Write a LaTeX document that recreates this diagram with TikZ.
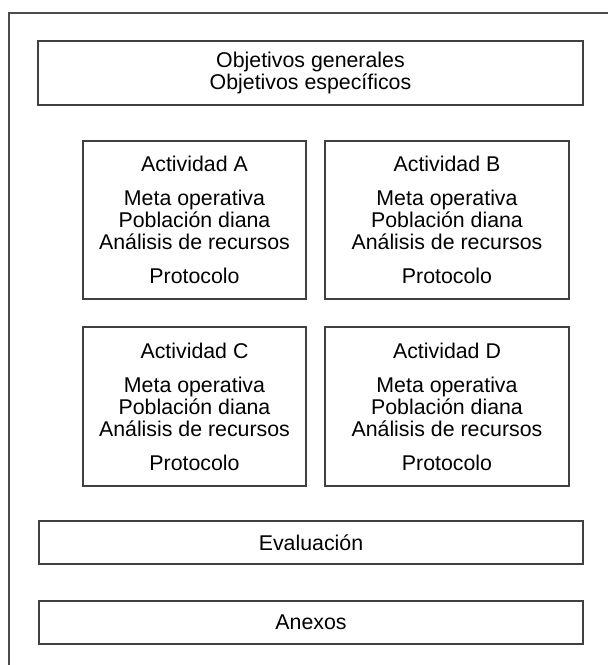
\documentclass[tikz,border=0pt]{standalone}
\usepackage{fontspec}
\setmainfont{Liberation Sans}
\begin{document}
\begin{tikzpicture}[x=0.75pt,y=-0.75pt]
    \tikzset{box/.style = {draw=black!75, line width=1.1pt, inner sep=0pt, outer sep=0pt,
        align=center, font=\fontsize{16}{16.5}\selectfont}}
    \tikzset{frame/.style = {draw=black!70, line width=1.1pt}}
    \useasboundingbox (0,0) rectangle (608,665);
    % outer frame, open to the right and below
    \coordinate (fr) at (608,13);
    \coordinate (fc) at (9,13);
    \coordinate (fb) at (9,665);
    \draw[frame] (fr) -- (fc) -- (fb);
    \node[box, minimum width=408.75pt, minimum height=48pt] (obj) at (310.5,73)
        {Objetivos generales\\Objetivos específicos};
    \node[box, minimum width=167.25pt, minimum height=118.5pt] (actA) at (194.5,220)
        {Actividad A\\[9pt]Meta operativa\\Población diana\\Análisis de recursos\\[9pt]Protocolo};
    \node[box, minimum width=183pt, minimum height=118.5pt] (actB) at (447,220)
        {Actividad B\\[9pt]Meta operativa\\Población diana\\Análisis de recursos\\[9pt]Protocolo};
    \node[box, minimum width=167.25pt, minimum height=119.25pt] (actC) at (194.5,406.5)
        {Actividad C\\[9pt]Meta operativa\\Población diana\\Análisis de recursos\\[9pt]Protocolo};
    \node[box, minimum width=183pt, minimum height=119.25pt] (actD) at (447,406.5)
        {Actividad D\\[9pt]Meta operativa\\Población diana\\Análisis de recursos\\[9pt]Protocolo};
    \node[box, minimum width=408pt, minimum height=32.25pt] (eval) at (311,542.5) {Evaluación};
    \node[box, minimum width=408pt, minimum height=32.25pt] (anex) at (311,622.5) {Anexos};
\end{tikzpicture}
\end{document}
